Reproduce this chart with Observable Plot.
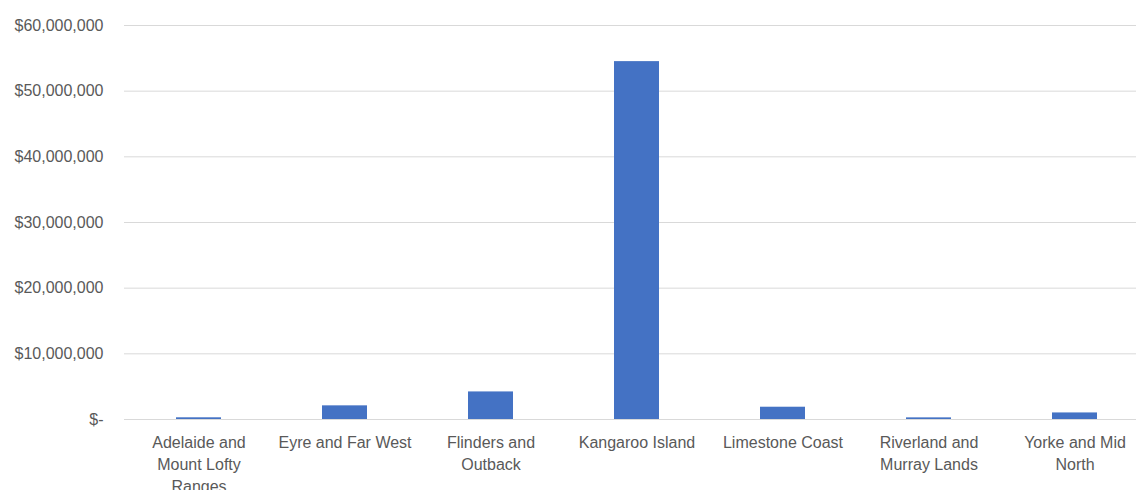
<!DOCTYPE html>
<html>
<head>
<meta charset="utf-8">
<script src="https://cdn.jsdelivr.net/npm/d3@7"></script>
<script src="https://cdn.jsdelivr.net/npm/@observablehq/plot@0.6"></script>
<style>
  html, body { margin: 0; padding: 0; background: #fff; }
  #chart svg { display: block; }
</style>
</head>
<body>
<div id="chart"></div>
<script>
const regions = [
  "Adelaide and Mount Lofty Ranges",
  "Eyre and Far West",
  "Flinders and Outback",
  "Kangaroo Island",
  "Limestone Coast",
  "Riverland and Murray Lands",
  "Yorke and Mid North"
];
const values = [260000, 2080000, 4200000, 54500000, 1870000, 250000, 1000000];
const tickLabels = [
  "Adelaide and\nMount Lofty\nRanges",
  "Eyre and Far West",
  "Flinders and\nOutback",
  "Kangaroo Island",
  "Limestone Coast",
  "Riverland and\nMurray Lands",
  "Yorke and Mid\nNorth"
];
const yTicks = [0, 10000000, 20000000, 30000000, 40000000, 50000000, 60000000];

const data = regions.map((r, i) => ({region: r, value: values[i]}));
const labelOf = new Map(regions.map((r, i) => [r, tickLabels[i]]));
const fmt = d => d === 0 ? "$-" : "$" + d3.format(",")(d);

const font = "Liberation Sans, Arial, sans-serif";
const chart = Plot.plot({
  width: 1136,
  height: 490,
  marginLeft: 124,
  marginRight: 0,
  marginTop: 25,
  marginBottom: 71,
  style: {fontFamily: font, fontSize: "16px", color: "#595959", background: "#fff", overflow: "hidden"},
  x: {domain: regions, range: [125, 1148], paddingInner: 0.69, paddingOuter: 0.345, align: 0.5},
  y: {domain: [0, 60000000]},
  marks: [
    Plot.gridY(yTicks, {stroke: "#d9d9d9", strokeOpacity: 1, strokeWidth: 1}),
    Plot.barY(data, {x: "region", y: "value", fill: "#4472c4"}),
    Plot.ruleY([0], {stroke: "#d9d9d9", strokeWidth: 1}),
    Plot.axisY(yTicks, {tickSize: 0, tickPadding: 21, tickFormat: fmt, label: null, fontSize: 16, fill: "#595959"}),
    Plot.axisX({tickSize: 0, tickPadding: 13, tickFormat: d => labelOf.get(d), label: null, fontSize: 16, lineHeight: 1.38, fill: "#595959"})
  ]
});
document.getElementById("chart").appendChild(chart);
</script>
</body>
</html>
